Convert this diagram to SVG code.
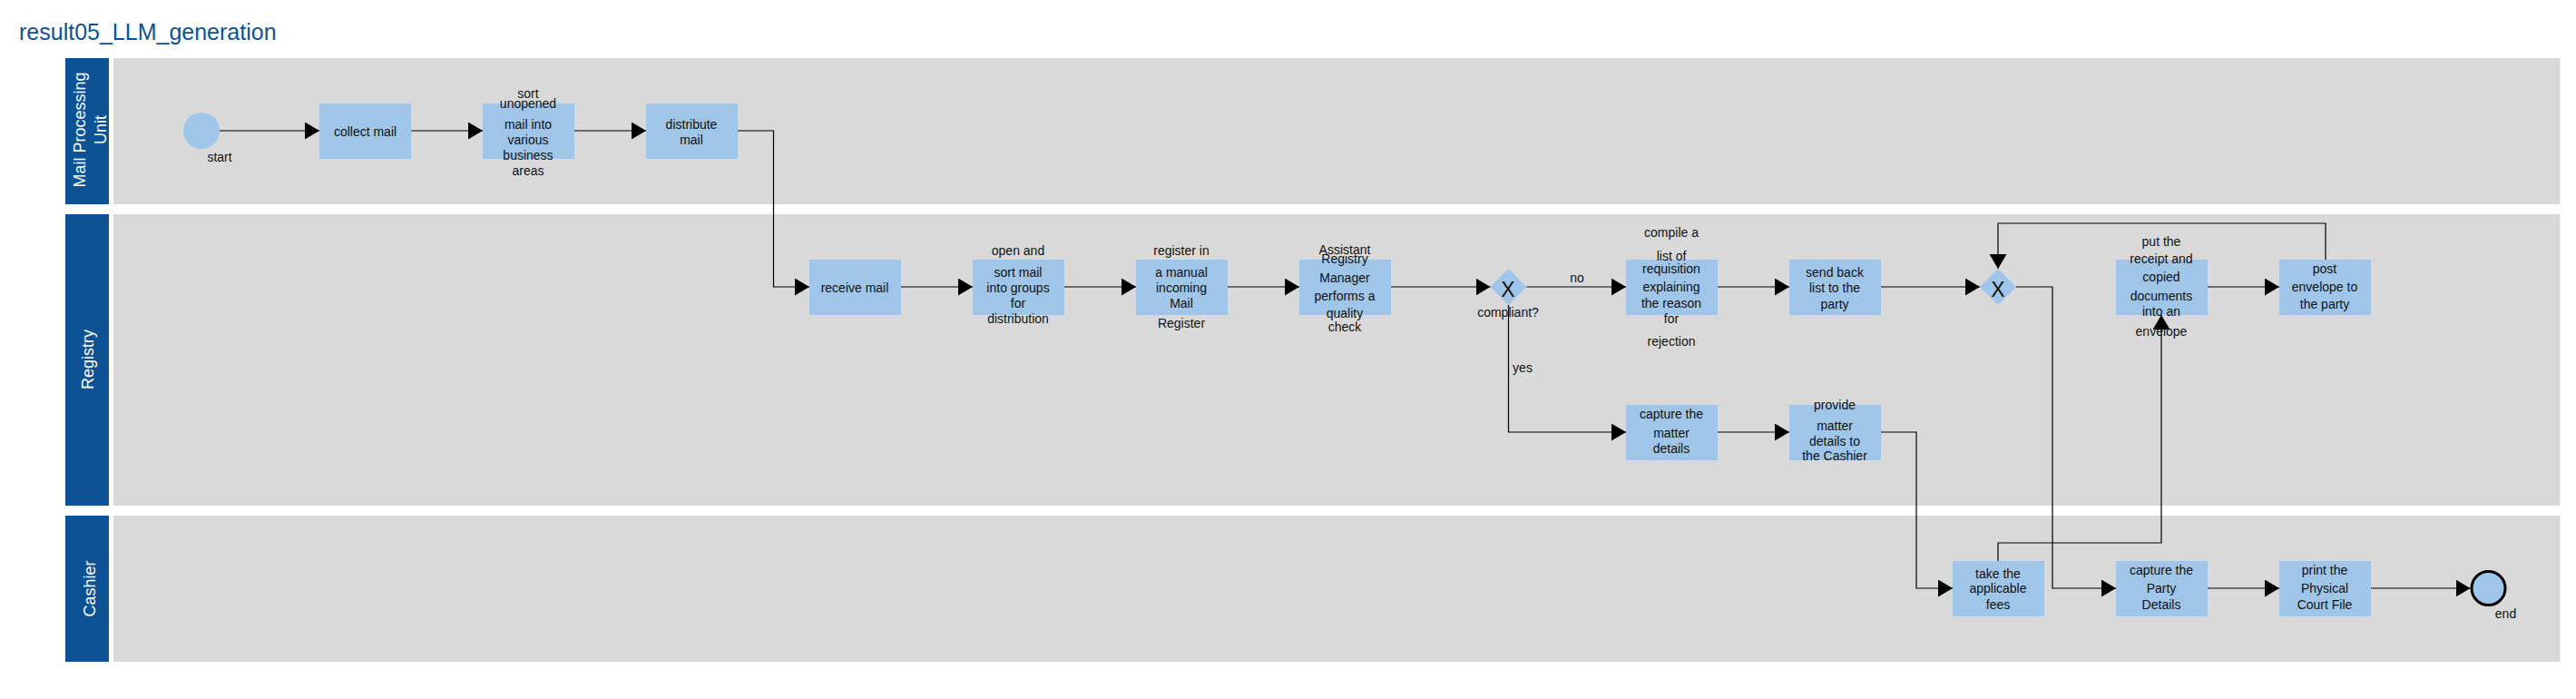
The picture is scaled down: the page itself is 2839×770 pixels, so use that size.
<svg xmlns="http://www.w3.org/2000/svg" width="2839" height="770" viewBox="0 0 2839 770">
<style>
.lane{fill:#d9d9d9}
.hdr{fill:#0d5294}
.hdrt{fill:#ffffff;font-family:"Liberation Sans",Arial,sans-serif;font-size:18px;text-anchor:middle}
.task{fill:#9fc5e8}
.t{fill:#111111;font-family:"Liberation Sans",Arial,sans-serif;font-size:14px;text-anchor:middle}
.gw{fill:#9fc5e8}
.gx{fill:#111111;font-family:"Liberation Sans",Arial,sans-serif;font-size:23px;text-anchor:middle}
.c{fill:none;stroke:#000000;stroke-width:1.2;marker-end:url(#arr)}
</style>
<defs>
<marker id="arr" markerUnits="userSpaceOnUse" markerWidth="16" markerHeight="19" refX="16" refY="9.5" orient="auto">
<path d="M0,0 L16,9.5 L0,19 Z" fill="#000000"/>
</marker>
</defs>
<rect width="2839" height="770" fill="#ffffff"/>
<text x="21" y="44" style="fill:#0d5294;font-family:'Liberation Sans',Arial,sans-serif;font-size:25px">result05_LLM_generation</text>

<g id="lane-mail">
<rect class="hdr" x="72" y="64" width="48" height="161"/>
<rect class="lane" x="125" y="64" width="2696.5" height="161"/>
<text class="hdrt" transform="translate(93.5,143) rotate(-90)">Mail Processing</text>
<text class="hdrt" transform="translate(117,143) rotate(-90)">Unit</text>
</g>
<g id="lane-registry">
<rect class="hdr" x="72" y="236" width="48" height="321"/>
<rect class="lane" x="125" y="236" width="2696.5" height="321"/>
<text class="hdrt" transform="translate(103,396) rotate(-90)">Registry</text>
</g>
<g id="lane-cashier">
<rect class="hdr" x="72" y="568" width="48" height="161"/>
<rect class="lane" x="125" y="568" width="2696.5" height="161"/>
<text class="hdrt" transform="translate(104.5,648.5) rotate(-90)">Cashier</text>
</g>

<g id="start">
<circle cx="222" cy="144" r="20" fill="#9fc5e8"/>
<text class="t" x="242" y="177.5">start</text>
</g>
<g id="collect-mail">
<rect class="task" x="352" y="114" width="101" height="61"/>
<text class="t" x="402.5" y="149.5">collect mail</text>
</g>
<g id="sort-unopened">
<rect class="task" x="532" y="114" width="101" height="61"/>
<text class="t" x="582" y="108">sort</text>
<text class="t" x="582" y="119">unopened</text>
<text class="t" x="582" y="142">mail into</text>
<text class="t" x="582" y="159">various</text>
<text class="t" x="582" y="176">business</text>
<text class="t" x="582" y="193">areas</text>
</g>
<g id="distribute-mail">
<rect class="task" x="712" y="114" width="101" height="61"/>
<text class="t" x="762" y="142">distribute</text>
<text class="t" x="762" y="159">mail</text>
</g>

<g id="receive-mail">
<rect class="task" x="892" y="286" width="101" height="61"/>
<text class="t" x="942" y="321.5">receive mail</text>
</g>
<g id="open-sort">
<rect class="task" x="1072" y="286" width="101" height="61"/>
<text class="t" x="1122" y="281">open and</text>
<text class="t" x="1122" y="305">sort mail</text>
<text class="t" x="1122" y="321.5">into groups</text>
<text class="t" x="1122" y="338.5">for</text>
<text class="t" x="1122" y="355.5">distribution</text>
</g>
<g id="register">
<rect class="task" x="1252" y="286" width="101" height="61"/>
<text class="t" x="1302" y="281">register in</text>
<text class="t" x="1302" y="305">a manual</text>
<text class="t" x="1302" y="321.5">incoming</text>
<text class="t" x="1302" y="338.5">Mail</text>
<text class="t" x="1302" y="360.5">Register</text>
</g>
<g id="quality-check">
<rect class="task" x="1432" y="286" width="101" height="61"/>
<text class="t" x="1482" y="279.5">Assistant</text>
<text class="t" x="1482" y="290">Registry</text>
<text class="t" x="1482" y="311">Manager</text>
<text class="t" x="1482" y="331">performs a</text>
<text class="t" x="1482" y="350">quality</text>
<text class="t" x="1482" y="364.5">check</text>
</g>
<g id="gateway-compliant">
<polygon class="gw" points="1662.5,296 1682.5,316 1662.5,336 1642.5,316"/>
<text class="gx" x="1662" y="326.5">X</text>
<text class="t" x="1662" y="348.5">compliant?</text>
</g>
<g id="compile-list">
<rect class="task" x="1792" y="286" width="101" height="61"/>
<text class="t" x="1842" y="260.5">compile a</text>
<text class="t" x="1842" y="287">list of</text>
<text class="t" x="1842" y="300.5">requisition</text>
<text class="t" x="1842" y="321">explaining</text>
<text class="t" x="1842" y="338.5">the reason</text>
<text class="t" x="1842" y="355.5">for</text>
<text class="t" x="1842" y="380.5">rejection</text>
</g>
<g id="send-back">
<rect class="task" x="1972" y="286" width="101" height="61"/>
<text class="t" x="2022" y="305">send back</text>
<text class="t" x="2022" y="322">list to the</text>
<text class="t" x="2022" y="339.5">party</text>
</g>
<g id="gateway-merge">
<polygon class="gw" points="2202,296 2222,316 2202,336 2182,316"/>
<text class="gx" x="2202" y="326.5">X</text>
</g>
<g id="put-receipt">
<rect class="task" x="2332" y="286" width="101" height="61"/>
<text class="t" x="2382" y="270.5">put the</text>
<text class="t" x="2382" y="290">receipt and</text>
<text class="t" x="2382" y="310">copied</text>
<text class="t" x="2382" y="330.5">documents</text>
<text class="t" x="2382" y="347.5">into an</text>
<text class="t" x="2382" y="369.5">envelope</text>
</g>
<g id="post-envelope">
<rect class="task" x="2512" y="286" width="101" height="61"/>
<text class="t" x="2562" y="300.5">post</text>
<text class="t" x="2562" y="321">envelope to</text>
<text class="t" x="2562" y="339.5">the party</text>
</g>
<g id="capture-matter">
<rect class="task" x="1792" y="446" width="101" height="61"/>
<text class="t" x="1842" y="460.5">capture the</text>
<text class="t" x="1842" y="481.5">matter</text>
<text class="t" x="1842" y="498.5">details</text>
</g>
<g id="provide-details">
<rect class="task" x="1972" y="446" width="101" height="61"/>
<text class="t" x="2022" y="451">provide</text>
<text class="t" x="2022" y="473.5">matter</text>
<text class="t" x="2022" y="490.5">details to</text>
<text class="t" x="2022" y="507">the Cashier</text>
</g>

<g id="take-fees">
<rect class="task" x="2152" y="618" width="101" height="61"/>
<text class="t" x="2202" y="636.5">take the</text>
<text class="t" x="2202" y="653">applicable</text>
<text class="t" x="2202" y="670.5">fees</text>
</g>
<g id="capture-party">
<rect class="task" x="2332" y="618" width="101" height="61"/>
<text class="t" x="2382" y="632.5">capture the</text>
<text class="t" x="2382" y="652.5">Party</text>
<text class="t" x="2382" y="670.5">Details</text>
</g>
<g id="print-file">
<rect class="task" x="2512" y="618" width="101" height="61"/>
<text class="t" x="2562" y="632.5">print the</text>
<text class="t" x="2562" y="652.5">Physical</text>
<text class="t" x="2562" y="670.5">Court File</text>
</g>
<g id="end">
<circle cx="2742.5" cy="648" r="18.5" fill="#9fc5e8" stroke="#000000" stroke-width="3"/>
<text class="t" x="2761.5" y="680.5">end</text>
</g>

<g id="connectors">
<path class="c" d="M242,144 H352"/>
<path class="c" d="M453,144 H532"/>
<path class="c" d="M633,144 H712"/>
<path class="c" d="M813,144 H852.5 V316 H892"/>
<path class="c" d="M993,316 H1072"/>
<path class="c" d="M1173,316 H1252"/>
<path class="c" d="M1353,316 H1432"/>
<path class="c" d="M1533,316 H1642.5"/>
<path class="c" d="M1682.5,316 H1792"/>
<path class="c" d="M1662.5,336 V476 H1792"/>
<path class="c" d="M1893,316 H1972"/>
<path class="c" d="M2073,316 H2182"/>
<path class="c" d="M2222,316 H2262 V648 H2332"/>
<path class="c" d="M1893,476 H1972"/>
<path class="c" d="M2073,476 H2112 V648 H2152"/>
<path class="c" d="M2202,618 V598 H2382 V347"/>
<path class="c" d="M2433,316 H2512"/>
<path class="c" d="M2563,286 V246 H2202 V296"/>
<path class="c" d="M2433,648 H2512"/>
<path class="c" d="M2613,648 H2722.5"/>
<text class="t" x="1738" y="311">no</text>
<text class="t" x="1678" y="410">yes</text>
</g>
</svg>
